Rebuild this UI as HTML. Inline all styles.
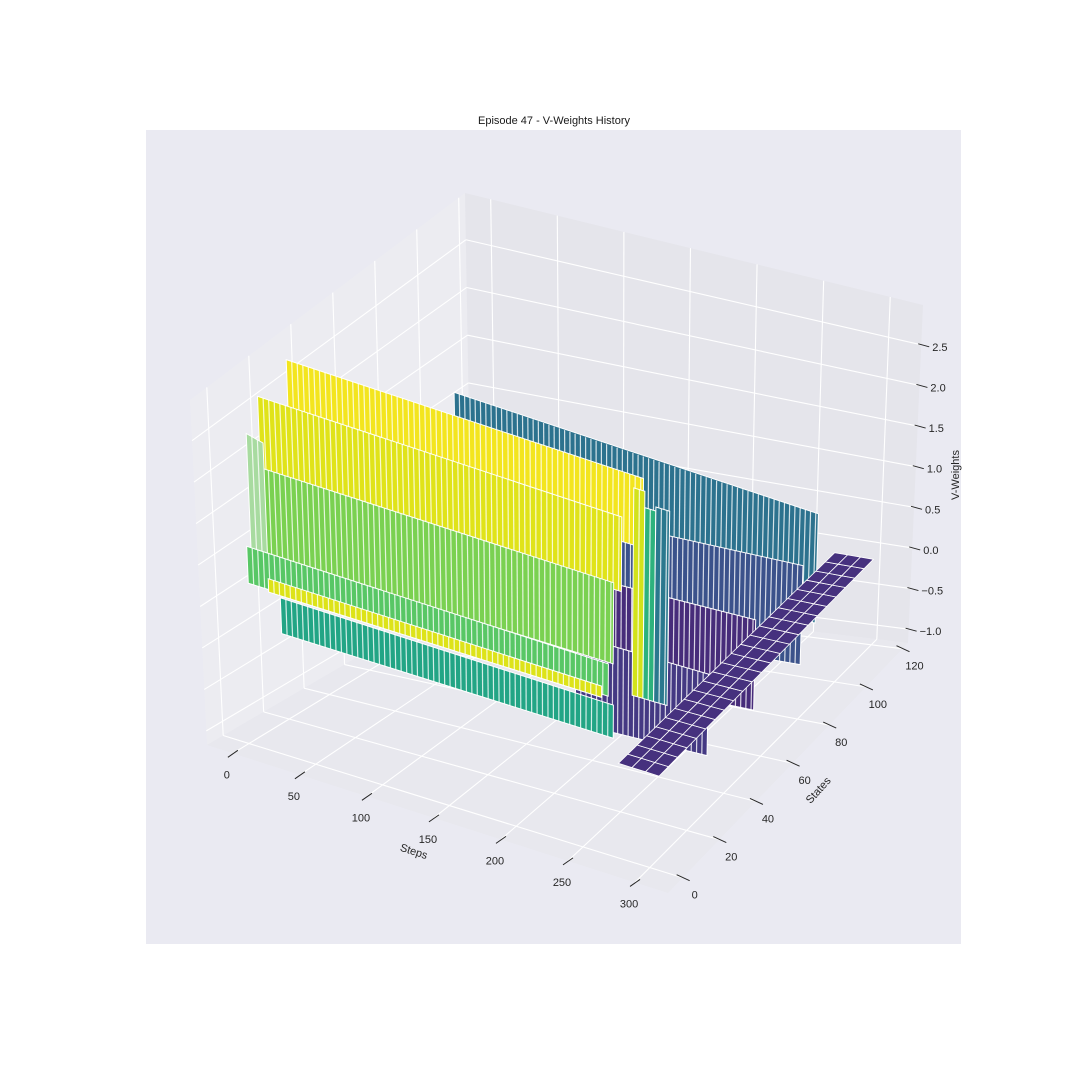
<!DOCTYPE html>
<html><head><meta charset="utf-8"><style>
html,body{margin:0;padding:0;background:#fff;}
svg{display:block;font-family:"Liberation Sans",Arial,sans-serif;}
</style></head><body>
<svg id="chart" width="1080" height="1080" viewBox="0 0 1080 1080" xmlns="http://www.w3.org/2000/svg">
<rect x="0" y="0" width="1080" height="1080" fill="#ffffff"/>
<rect x="146" y="130" width="815" height="814" fill="#eaeaf2"/>
<text x="554" y="124" text-anchor="middle" font-size="11" fill="#1a1a1a">Episode 47 - V-Weights History</text>
<g id="panes"></g>
<g id="grid"></g>
<g id="surface"></g>
<g id="ticks"></g>
<text x="414" y="855" text-anchor="middle" font-size="11" fill="#262626" transform="rotate(18 414 851)">Steps</text>
<text x="818" y="794" text-anchor="middle" font-size="11" fill="#262626" transform="rotate(-48 818 790)">States</text>
<text x="955" y="479" text-anchor="middle" font-size="11" fill="#262626" transform="rotate(-90 955 475)">V-Weights</text>
</svg>
<script>
// axis tick values
const stepTicks=[0,50,100,150,200,250,300];
const stateTicks=[0,20,40,60,80,100,120];
const zTicks=[-1.0,-0.5,0.0,0.5,1.0,1.5,2.0,2.5];
// surface sheets (rows of the surface seen as walls), back to front
const sheetState=[104,95,70,45,25,20,20,20,11,7,5,3,1,0];
const sheetStepStart=[0,120,150,180,0,258,266,274,0,0,0,0,18,28];
const sheetStepEnd=[278,280,280,280,258,266,274,284,262,262,12,264,262,272];
const sheetTopStart=[1.24,0.35,0.25,0.15,2.95,2.85,2.65,2.7,2.78,2.04,2.45,1.14,0.88,0.72];
const sheetTopEnd=[0.72,0.3,0.2,0.1,2.85,2.85,2.65,2.7,2.72,2.0,2.4,1.1,0.86,0.7];
const sheetBottom=[-0.6,-0.9,-0.9,-0.9,2.0,0.3,0.3,0.3,1.8,1.0,1.0,0.7,0.72,0.29];
const sheetColor=['#2c728e','#3b528b','#472c7a','#443983','#f3e51e','#d2e21b','#2db27d','#2a788e','#e0e319','#7ad151','#a8dba0','#58c765','#dde318','#22a585'];
// flat plate at end of steps
const plateSteps=[276,286,296,306];
const plateStates=[0,5,10,15,20,25,30,35,40,45,50,55,60,65,70,75,80,85,90,95,100,105,110,115];
const plateZ=0.0;

const S0=-19.3,S1=324.6,T0=-8,T1=123,Z0=-1.17,Z1=2.99;
function P(s,t,z){
  const u=(s-S0)/(S1-S0),v=(t-T0)/(T1-T0),f=(z-Z0)/(Z1-Z0);
  const b=(a,c,d,e)=>a*(1-u)*(1-v)+c*u*(1-v)+d*u*v+e*(1-u)*v;
  return [b(207,668,908,472)+b(-17,5,15,-7)*f, b(745,893,643,590)-b(345,333,338,397)*f];
}
const NS='http://www.w3.org/2000/svg';
function el(tag,parent,attrs){const e=document.createElementNS(NS,tag);for(const k in attrs)e.setAttribute(k,attrs[k]);parent.appendChild(e);return e;}
function pts(a){return a.map(p=>p[0].toFixed(1)+','+p[1].toFixed(1)).join(' ');}
const panes=document.getElementById('panes'),grid=document.getElementById('grid'),surf=document.getElementById('surface'),ticks=document.getElementById('ticks');

let e;
e=el('polygon',panes,{points:pts([P(S0,T0,Z0),P(S0,T1,Z0),P(S0,T1,Z1),P(S0,T0,Z1)]),fill:'#ececf1'});


e=el('polygon',panes,{points:pts([P(S0,T1,Z0),P(S1,T1,Z0),P(S1,T1,Z1),P(S0,T1,Z1)]),fill:'#e5e5eb'});


e=el('polygon',panes,{points:pts([P(S0,T0,Z0),P(S1,T0,Z0),P(S1,T1,Z0),P(S0,T1,Z0)]),fill:'#e8e8ee'});



function gl(a,b){const l=el('line',grid,{x1:a[0],y1:a[1],x2:b[0],y2:b[1],stroke:'#ffffff','stroke-width':1.1});

}
stepTicks.forEach(s=>{gl(P(s,T0,Z0),P(s,T1,Z0));gl(P(s,T1,Z0),P(s,T1,Z1));});
stateTicks.forEach(t=>{gl(P(S0,t,Z0),P(S1,t,Z0));gl(P(S0,t,Z0),P(S0,t,Z1));});
zTicks.forEach(z=>{gl(P(S0,T0,z),P(S0,T1,z));gl(P(S0,T1,z),P(S1,T1,z));});

// sheets
for(let i=0;i<sheetState.length;i++){
  const t=sheetState[i],s0=sheetStepStart[i],s1=sheetStepEnd[i];
  const poly=[P(s0,t,sheetTopStart[i]),P(s1,t,sheetTopEnd[i]),P(s1,t,sheetBottom[i]),P(s0,t,sheetBottom[i])];
  const g=el('g',surf,{});
  
  
  el('polygon',g,{points:pts(poly),fill:sheetColor[i],stroke:'#ffffff','stroke-width':1});
  for(let s=s0+4;s<s1;s+=4){
    const fr=(s-s0)/(s1-s0);
    const top=sheetTopStart[i]+(sheetTopEnd[i]-sheetTopStart[i])*fr;
    const a=P(s,t,top),b=P(s,t,sheetBottom[i]);
    el('line',g,{x1:a[0].toFixed(1),y1:a[1].toFixed(1),x2:b[0].toFixed(1),y2:b[1].toFixed(1),stroke:'#ffffff','stroke-width':1.2,'stroke-opacity':0.8});
  }
}
// plate
const plate=el('g',surf,{});


for(let i=0;i<plateSteps.length-1;i++){
  for(let j=0;j<plateStates.length-1;j++){
    const c=[P(plateSteps[i],plateStates[j],plateZ),P(plateSteps[i+1],plateStates[j],plateZ),P(plateSteps[i+1],plateStates[j+1],plateZ),P(plateSteps[i],plateStates[j+1],plateZ)];
    el('polygon',plate,{points:pts(c),fill:'#46317e',stroke:'#ffffff','stroke-width':0.8});
  }
}

// ticks
stepTicks.forEach(s=>{
  const p=P(s,T0,Z0);
  const g=el('g',ticks,{});
  
  
  el('line',g,{x1:p[0]-5,y1:p[1]+4,x2:p[0]+5,y2:p[1]-3,stroke:'#262626','stroke-width':1});
  const tx=el('text',g,{x:p[0]-6,y:p[1]+25,'text-anchor':'middle','font-size':11,fill:'#262626'});
  tx.textContent=String(s);
});
stateTicks.forEach(t=>{
  const p=P(S1,t,Z0);
  const g=el('g',ticks,{});
  
  
  el('line',g,{x1:p[0]-6,y1:p[1]-3,x2:p[0]+7,y2:p[1]+3,stroke:'#262626','stroke-width':1});
  const tx=el('text',g,{x:p[0]+12,y:p[1]+21,'text-anchor':'middle','font-size':11,fill:'#262626'});
  tx.textContent=String(t);
});
zTicks.forEach(z=>{
  const p=P(S1,T1,z);
  const g=el('g',ticks,{});
  
  
  el('line',g,{x1:p[0]-3,y1:p[1]-1,x2:p[0]+8,y2:p[1]+2,stroke:'#262626','stroke-width':1});
  const tx=el('text',g,{x:p[0]+11,y:p[1]+6,'text-anchor':'start','font-size':11,fill:'#262626'});
  tx.textContent=(z<0?'\u2212':'')+Math.abs(z).toFixed(1);
});
</script>
</body></html>
